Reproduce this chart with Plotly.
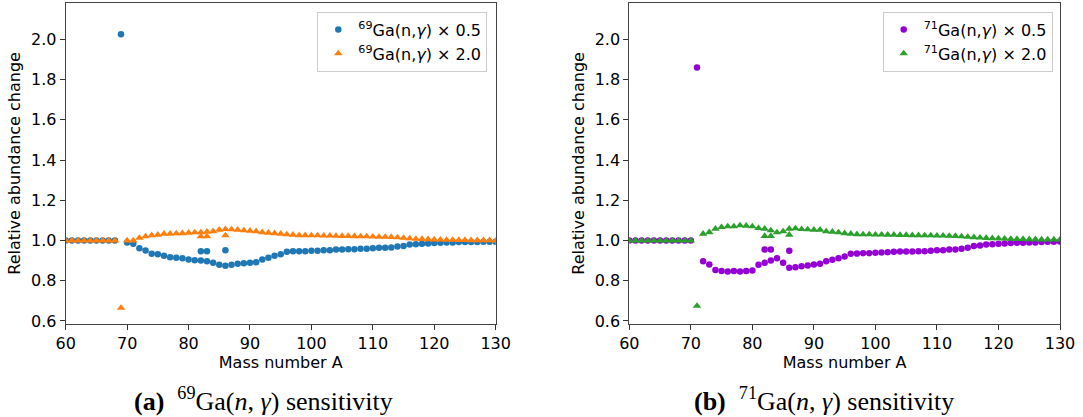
import plotly.graph_objects as go

# ---------------- data ----------------
mass = list(range(60, 131))

ga69_half = [1.0] * 9 + [
    2.025, 0.990, 0.984, 0.962, 0.950, 0.934, 0.932, 0.924, 0.917, 0.914,
    0.912, 0.906, 0.902, 0.901, 0.897, 0.889, 0.879, 0.874, 0.879, 0.884,
    0.887, 0.889, 0.892, 0.905, 0.914, 0.924, 0.932, 0.944, 0.946, 0.946,
    0.947, 0.949, 0.949, 0.952, 0.952, 0.955, 0.955, 0.957, 0.957, 0.959,
    0.959, 0.962, 0.964, 0.964, 0.965, 0.970, 0.973, 0.980, 0.982, 0.984,
    0.985, 0.987, 0.989, 0.990, 0.990, 0.992, 0.992, 0.992, 0.992, 0.994,
    0.994, 0.994]
ga69_double = [1.0] * 9 + [
    0.665, 1.000, 1.000, 1.013, 1.020, 1.026, 1.028, 1.033, 1.033, 1.035,
    1.036, 1.038, 1.040, 1.040, 1.043, 1.046, 1.053, 1.056, 1.055, 1.053,
    1.050, 1.048, 1.046, 1.041, 1.038, 1.036, 1.033, 1.030, 1.028, 1.026,
    1.026, 1.025, 1.025, 1.024, 1.024, 1.023, 1.022, 1.022, 1.021, 1.020,
    1.020, 1.019, 1.018, 1.018, 1.017, 1.015, 1.013, 1.010, 1.008, 1.007,
    1.006, 1.005, 1.004, 1.003, 1.003, 1.002, 1.002, 1.001, 1.001, 1.001,
    1.001, 1.000]
ga69_extra_mass = [82, 83, 86]
ga69_half_extra = [0.947, 0.947, 0.952]
ga69_double_extra = [1.020, 1.020, 1.025]

ga71_half = [1.0] * 11 + [
    1.860, 0.897, 0.881, 0.854, 0.849, 0.846, 0.848, 0.846, 0.848, 0.851,
    0.880, 0.889, 0.901, 0.912, 0.889, 0.864, 0.867, 0.872, 0.876, 0.881,
    0.884, 0.897, 0.904, 0.912, 0.920, 0.934, 0.935, 0.937, 0.937, 0.939,
    0.940, 0.942, 0.944, 0.945, 0.945, 0.945, 0.947, 0.947, 0.949, 0.952,
    0.952, 0.955, 0.955, 0.959, 0.964, 0.973, 0.975, 0.980, 0.982, 0.984,
    0.985, 0.987, 0.989, 0.989, 0.990, 0.990, 0.992, 0.994, 0.994, 0.995]
ga71_double = [1.0] * 11 + [
    0.675, 1.033, 1.041, 1.058, 1.066, 1.070, 1.070, 1.075, 1.073, 1.070,
    1.061, 1.058, 1.050, 1.040, 1.045, 1.058, 1.060, 1.056, 1.055, 1.053,
    1.053, 1.045, 1.043, 1.040, 1.036, 1.033, 1.031, 1.030, 1.030, 1.029,
    1.029, 1.028, 1.028, 1.027, 1.027, 1.026, 1.026, 1.025, 1.025, 1.024,
    1.024, 1.023, 1.022, 1.020, 1.018, 1.016, 1.014, 1.012, 1.011, 1.010,
    1.009, 1.008, 1.007, 1.007, 1.006, 1.006, 1.005, 1.005, 1.005, 1.005]
ga71_extra_mass = [82, 83, 86]
ga71_half_extra = [0.955, 0.955, 0.949]
ga71_double_extra = [1.022, 1.022, 1.028]

x_ticks = [60, 70, 80, 90, 100, 110, 120, 130]
y_ticks = [0.6, 0.8, 1.0, 1.2, 1.4, 1.6, 1.8, 2.0]

# ---------------- figure ----------------
W, H = 1083, 417
fig = go.Figure()

AX_FONT = dict(family="DejaVu Sans", size=16, color="#000000")


def add(x, y, name, color, symbol, size, xa, ya, legend):
    fig.add_trace(go.Scatter(
        x=x, y=y, mode="markers", name=name,
        marker=dict(color=color, symbol=symbol, size=size, line=dict(width=0)),
        xaxis=xa, yaxis=ya, legend=legend, cliponaxis=True))


add(mass + ga69_extra_mass, ga69_half + ga69_half_extra,
    "<sup>69</sup>Ga(n,<i>γ</i>) × 0.5", "#1f77b4", "circle", 6.5, "x", "y", "legend")
add(mass + ga69_extra_mass, ga69_double + ga69_double_extra,
    "<sup>69</sup>Ga(n,<i>γ</i>) × 2.0", "#ff7f0e", "triangle-up", 7.5, "x", "y", "legend")
add(mass + ga71_extra_mass, ga71_half + ga71_half_extra,
    "<sup>71</sup>Ga(n,<i>γ</i>) × 0.5", "#9400d3", "circle", 6.5, "x2", "y2", "legend2")
add(mass + ga71_extra_mass, ga71_double + ga71_double_extra,
    "<sup>71</sup>Ga(n,<i>γ</i>) × 2.0", "#2ca02c", "triangle-up", 7.5, "x2", "y2", "legend2")

y_dom = [(H - 324) / H, (H - 2.7) / H]
x1_dom = [65.7 / W, 495.7 / W]
x2_dom = [629.3 / W, 1060.0 / W]

common_x = dict(range=[60, 130], tickvals=x_ticks, ticks="outside", ticklen=5,
                tickcolor="#333", showline=True, linecolor="#444", linewidth=1,
                mirror=True, showgrid=False, zeroline=False, tickfont=AX_FONT,
                automargin=False,
                title=dict(text="Mass number A", font=AX_FONT, standoff=2))
common_y = dict(range=[0.585, 2.182], tickvals=y_ticks, tickformat=".1f",
                ticks="outside", ticklen=5, tickcolor="#333", showline=True,
                linecolor="#444", linewidth=1, mirror=True, showgrid=False,
                zeroline=False, tickfont=AX_FONT, automargin=False,
                title=dict(text="Relative abundance change", font=AX_FONT, standoff=6))

legend_common = dict(bgcolor="rgba(255,255,255,0.8)", bordercolor="#cccccc",
                     borderwidth=1, font=AX_FONT, xanchor="right", yanchor="top",
                     itemsizing="trace")

CAP_FONT = dict(family="Liberation Serif", size=26, color="#000")

fig.update_layout(
    width=W, height=H,
    margin=dict(l=0, r=0, t=0, b=0),
    paper_bgcolor="white", plot_bgcolor="white",
    font=AX_FONT,
    xaxis=dict(domain=x1_dom, anchor="y", **common_x),
    yaxis=dict(domain=y_dom, anchor="x", **common_y),
    xaxis2=dict(domain=x2_dom, anchor="y2", **common_x),
    yaxis2=dict(domain=y_dom, anchor="x2", **common_y),
    legend=dict(x=487.3 / W, y=1 - 11.7 / H, **legend_common),
    legend2=dict(x=1052.7 / W, y=1 - 11.7 / H, **legend_common),
    annotations=[
        dict(text="<b>(a)</b>&nbsp; <sup>69</sup>Ga(<i>n</i>, <i>γ</i>)&nbsp;sensitivity",
             x=263.5 / W, y=1 - 399 / H, xref="paper", yref="paper",
             xanchor="center", yanchor="middle", showarrow=False, font=CAP_FONT),
        dict(text="<b>(b)</b>&nbsp; <sup>71</sup>Ga(<i>n</i>, <i>γ</i>)&nbsp;sensitivity",
             x=824 / W, y=1 - 399 / H, xref="paper", yref="paper",
             xanchor="center", yanchor="middle", showarrow=False, font=CAP_FONT),
    ],
)

fig.write_html("out.html")
